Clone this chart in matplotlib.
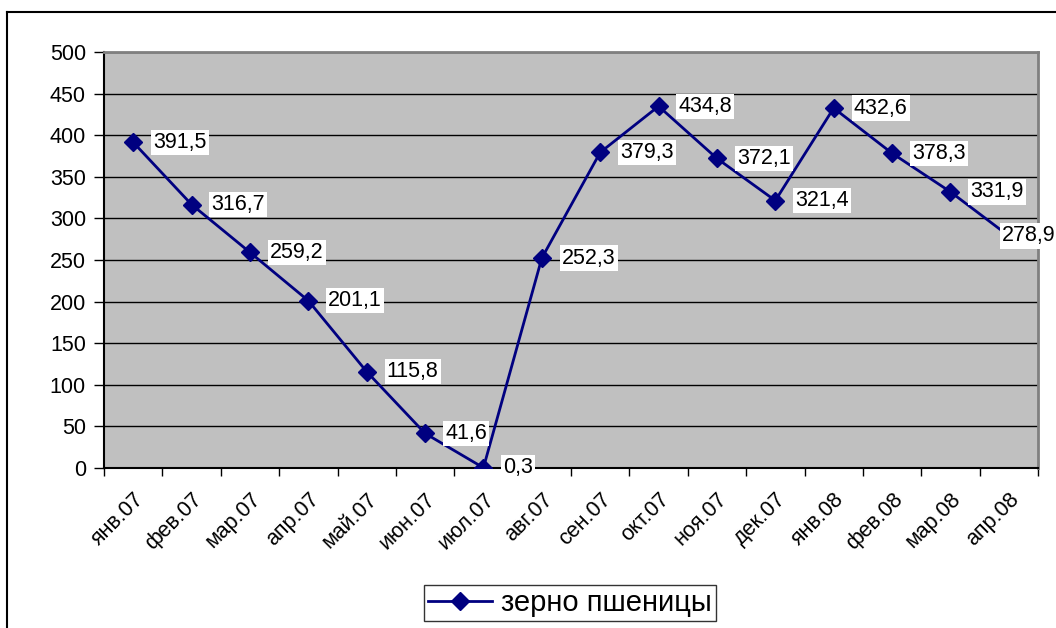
import matplotlib.pyplot as plt
from matplotlib.lines import Line2D

months = ['янв.07', 'фев.07', 'мар.07', 'апр.07', 'май.07', 'июн.07', 'июл.07', 'авг.07',
          'сен.07', 'окт.07', 'ноя.07', 'дек.07', 'янв.08', 'фев.08', 'мар.08', 'апр.08']
values = [391.5, 316.7, 259.2, 201.1, 115.8, 41.6, 0.3, 252.3,
          379.3, 434.8, 372.1, 321.4, 432.6, 378.3, 331.9, 278.9]
series_name = 'зерно пшеницы'

plt.rcParams['font.family'] = ['Liberation Sans', 'DejaVu Sans']

fig = plt.figure(figsize=(10.56, 6.28), dpi=100)
ax = fig.add_axes([104/1056, 1-468/628, 934/1056, 416/628])
ax.set_facecolor('#c0c0c0')

x = list(range(len(months)))
ax.plot(x, values, color='#000080', lw=2, marker='D', ms=9, label=series_name, zorder=3)

for xi, v in zip(x, values):
    lab = f'{v:.1f}'.replace('.', ',')
    # last label is pushed left by the chart edge, covering its marker
    dx = -7 if xi == len(months) - 1 else 20
    ax.annotate(lab, (xi, v), xytext=(dx, 0), textcoords='offset pixels',
                va='center', ha='left', fontsize=15.5,
                bbox=dict(facecolor='white', edgecolor='none', pad=1.5),
                zorder=5, annotation_clip=False)

ax.set_xlim(-0.5, len(months) - 0.5)
ax.set_ylim(0, 500)
ax.set_yticks(range(0, 501, 50))
ax.yaxis.grid(True, color='black', lw=1)
ax.set_axisbelow(True)

ax.set_xticks([i - 0.5 for i in range(len(months) + 1)], minor=False)
ax.set_xticklabels([''] * (len(months) + 1))
ax.set_xticks(x, minor=True)
ax.set_xticklabels(months, minor=True, rotation=45, ha='right', va='top',
                   rotation_mode='anchor', fontsize=15.5)
ax.tick_params(axis='x', which='minor', length=0, pad=15)
ax.tick_params(axis='x', which='major', length=6, width=1)
ax.tick_params(axis='y', length=7, width=1, labelsize=15.5, pad=6)

for s in ['top', 'right']:
    ax.spines[s].set_color('#808080')
    ax.spines[s].set_linewidth(2)
for s in ['left', 'bottom']:
    ax.spines[s].set_color('black')
    ax.spines[s].set_linewidth(1.5)

fig.legend(loc='center', bbox_to_anchor=(570/1056, 1-603/628), fontsize=21,
           frameon=True, fancybox=False, edgecolor='black', handlelength=2.2,
           borderpad=0.15, handletextpad=0.3)

fig.add_artist(Line2D([7/1056, 7/1056], [0, 1-12/628], color='black', lw=1.5))
fig.add_artist(Line2D([7/1056, 1], [1-12/628, 1-12/628], color='black', lw=1.5))

fig.savefig('out.png', dpi=100)
